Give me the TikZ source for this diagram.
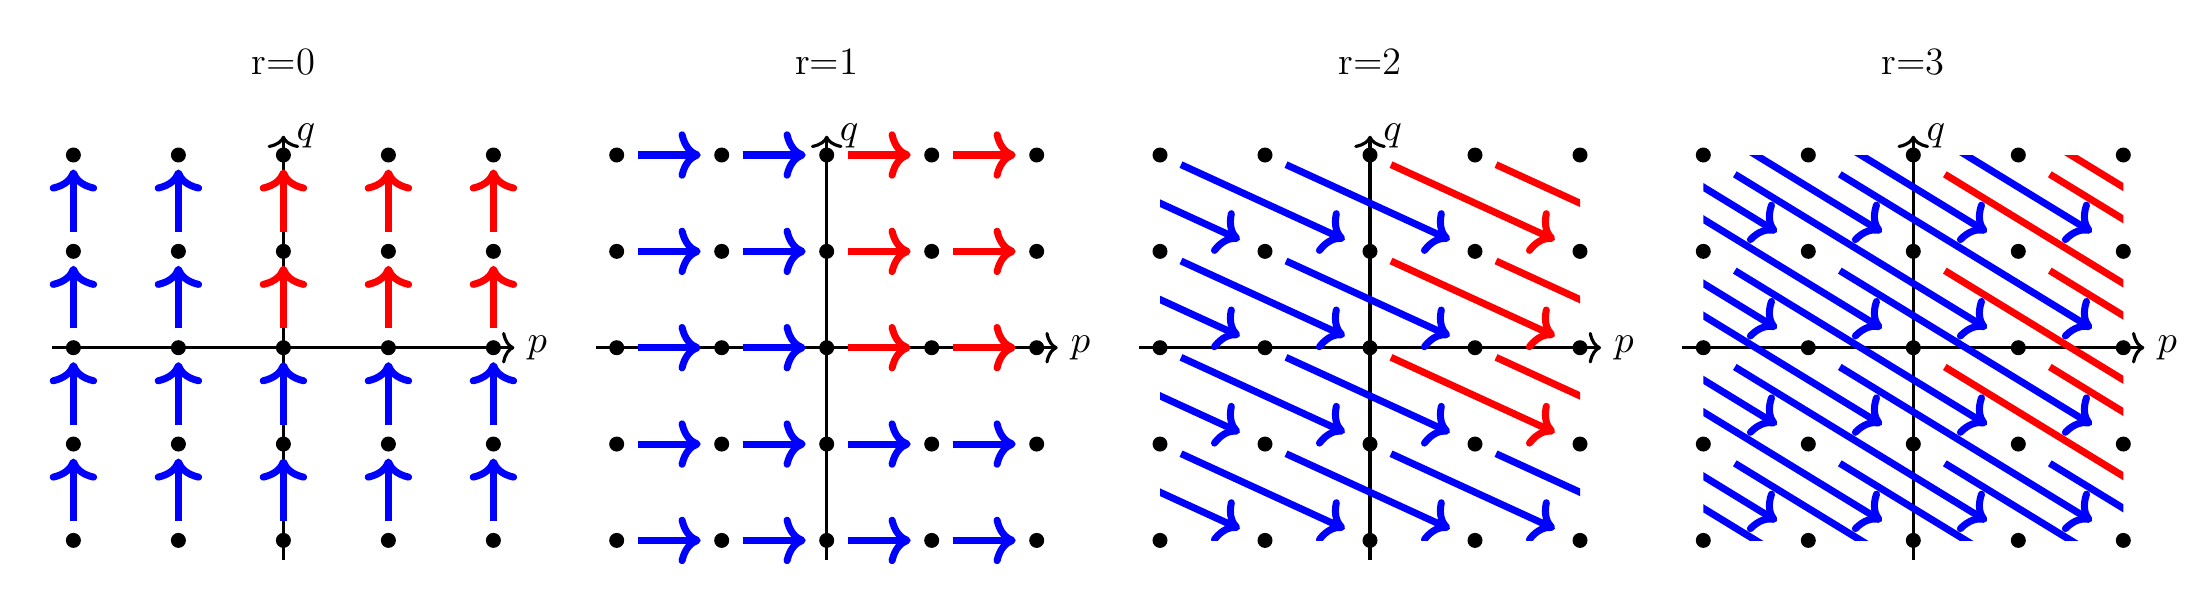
\documentclass[tikz,border=0pt]{standalone}
\usetikzlibrary{arrows.meta}
\tikzset{
  lbl/.style={font=\fontsize{11}{13.2}\selectfont, inner sep=0.333em},
  axisline/.style={line width=0.9pt, -{To[length=3.5pt,width=9pt]}},
  flowline/.style={line width=2pt},
  flowarrow/.style={flowline, -{To[length=6.3pt,width=13.5pt]}},
  latdot/.style={fill=black},
}
\begin{document}
\begin{tikzpicture}
\useasboundingbox (0,0) rectangle (22.05,6.08);
\foreach \rv/\ox/\sh/\eh/\ca/\cb in {0/2.834/0.2/0.15/0.5/0, 1/8.267/0.2/0.2/0/0.5, 2/13.700/0.1/0.12/0/0, 3/19.133/0.1/0.1/0/0} {
  \begin{scope}[shift={(\ox,2.603)}, x=1.05cm, y=0.9635cm]
    \node[lbl] (title\rv) at (0,2.965) {r=\rv};
    \draw[axisline] (-2.2,0) -- (2.2,0) node[lbl, right] (plabel\rv) {$p$};
    \draw[axisline] (0,-2.2) -- (0,2.2) node[lbl, right] (qlabel\rv) {$q$};
    \begin{scope}
      \clip ({-2-\ca},{-2-\cb}) rectangle ({2+\ca},{2+\cb});
      \pgfmathsetmacro\vx{\rv}
      \pgfmathsetmacro\vy{1-\rv}
      \foreach \pp in {-5,...,2} {
        \foreach \qq in {-2,...,5} {
          \pgfmathtruncatemacro\isred{and(\pp>=0,\qq>=0)}
          \ifnum\isred=1 \def\col{red}\else\def\col{blue}\fi
          \pgfmathsetmacro\tx{\pp+(1-\eh)*\vx}
          \pgfmathsetmacro\ty{\qq+(1-\eh)*\vy}
          \pgfmathtruncatemacro\tipin{and(abs(\tx)<=2.01,abs(\ty)<=2.01)}
          \ifnum\tipin=1
            \draw[flowarrow, draw=\col]
              ({\pp+\sh*\vx},{\qq+\sh*\vy}) -- (\tx,\ty);
          \else
            \draw[flowline, draw=\col]
              ({\pp+\sh*\vx},{\qq+\sh*\vy}) -- (\tx,\ty);
          \fi
        }
      }
    \end{scope}
    \foreach \pp in {-2,...,2} {
      \foreach \qq in {-2,...,2} {
        \fill[latdot] (\pp,\qq) circle[radius=0.075cm];
      }
    }
  \end{scope}
}
\end{tikzpicture}
\end{document}
